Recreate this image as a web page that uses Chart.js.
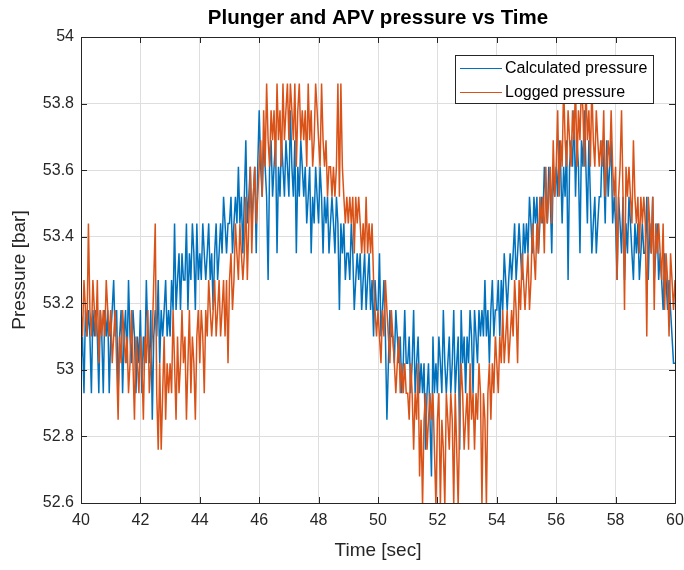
<!DOCTYPE html>
<html>
<head>
<meta charset="utf-8">
<script src="https://cdn.jsdelivr.net/npm/chart.js@4.4.1/dist/chart.umd.min.js"></script>
<style>
  html, body { margin: 0; padding: 0; background: #fff; }
  canvas { display: block; }
</style>
</head>
<body>
<canvas id="chart" width="684" height="570"></canvas>
<script>
// sample timing of the logged signals (20 samples per second)
const startTime = 40;
const sampleStep = 0.05;

const xTicks = [40, 42, 44, 46, 48, 50, 52, 54, 56, 58, 60];
const yTicks = [52.6, 52.8, 53, 53.2, 53.4, 53.6, 53.8, 54];

const seriesNames = ["Calculated pressure", "Logged pressure"];

// calculated pressure [bar], one row per second
const calcPressure = [
  53.02,53.10,52.93,53.18,53.10,53.18,53.10,52.93,53.18,53.10, 53.18,53.10,52.93,53.18,53.10,52.93,53.18,53.10,53.18,52.93,
  53.10,53.18,53.27,53.10,53.18,52.93,53.10,53.18,52.93,53.10, 53.18,53.02,53.27,53.10,53.02,53.18,53.10,52.93,53.10,53.02,
  53.18,52.93,53.10,53.02,53.27,53.10,53.02,53.18,52.85,53.10, 53.18,53.10,53.27,53.02,53.18,53.10,53.18,53.27,53.10,53.18,
  53.10,53.27,53.18,53.44,53.18,53.27,53.35,53.18,53.35,53.27, 53.27,53.44,53.18,53.35,53.27,53.44,53.35,53.18,53.44,53.27,
  53.35,53.27,53.44,53.35,53.27,53.35,53.44,53.27,53.35,53.18, 53.35,53.44,53.27,53.35,53.44,53.35,53.52,53.44,53.35,53.44,
  53.44,53.52,53.35,53.44,53.52,53.44,53.61,53.44,53.52,53.35, 53.52,53.69,53.44,53.52,53.61,53.44,53.52,53.61,53.35,53.61,
  53.78,53.61,53.52,53.69,53.61,53.52,53.27,53.61,53.69,53.52, 53.61,53.69,53.35,53.61,53.52,53.69,53.61,53.52,53.69,53.61,
  53.52,53.78,53.61,53.52,53.69,53.35,53.61,53.52,53.69,53.61, 53.52,53.61,53.44,53.52,53.61,53.35,53.52,53.44,53.61,53.52,
  53.44,53.61,53.52,53.35,53.52,53.44,53.52,53.35,53.44,53.52, 53.44,53.35,53.52,53.44,53.18,53.44,53.35,53.44,53.27,53.35,
  53.35,53.27,53.44,53.35,53.18,53.27,53.35,53.27,53.35,53.18, 53.27,53.35,53.18,53.27,53.35,53.18,53.27,53.10,53.27,53.18,
  53.18,53.35,53.10,53.18,53.27,53.10,52.85,53.02,53.18,53.10, 53.10,53.02,53.18,53.10,53.02,53.10,52.93,53.02,53.18,53.02,
  53.02,53.10,52.93,53.02,53.18,52.93,53.02,53.10,52.93,53.02, 52.93,53.02,52.76,52.93,53.02,52.85,52.68,53.10,52.93,53.02,
  52.93,53.10,53.02,52.93,53.18,53.02,52.93,53.02,53.10,52.93, 53.02,53.18,52.93,53.02,53.10,52.76,53.18,53.02,53.10,52.93,
  53.10,53.02,53.18,53.10,52.93,53.18,53.10,53.02,53.18,53.10, 53.18,53.10,53.27,53.10,53.18,53.02,53.18,53.27,53.10,53.18,
  53.18,53.27,53.10,53.27,53.18,53.35,53.27,53.18,53.27,53.35, 53.27,53.35,53.44,53.27,53.35,53.44,53.35,53.27,53.44,53.35,
  53.44,53.35,53.52,53.44,53.35,53.52,53.44,53.52,53.35,53.44, 53.52,53.44,53.61,53.52,53.44,53.61,53.52,53.35,53.61,53.52,
  53.61,53.52,53.69,53.61,53.44,53.61,53.52,53.69,53.27,53.61, 53.69,53.61,53.78,53.52,53.69,53.61,53.35,53.69,53.61,53.78,
  53.61,53.44,53.69,53.52,53.35,53.44,53.52,53.35,53.44,53.52, 53.52,53.69,53.61,53.44,53.69,53.52,53.61,53.69,53.44,53.52,
  53.44,53.27,53.52,53.44,53.35,53.52,53.27,53.44,53.35,53.52, 53.44,53.35,53.27,53.44,53.35,53.44,53.27,53.35,53.44,53.35,
  53.35,53.52,53.27,53.44,53.35,53.52,53.27,53.35,53.44,53.27, 53.35,53.27,53.18,53.35,53.27,53.18,53.27,53.18,53.10,53.02,
  53.02
];

// logged pressure [bar], one row per second
const loggedPressure = [
  53.18,53.10,53.27,53.18,53.10,53.44,53.18,53.10,53.27,53.18, 53.10,53.27,53.02,53.18,53.10,53.18,53.10,53.27,53.18,53.10,
  53.18,53.02,53.10,53.18,53.02,52.85,53.10,53.02,53.18,53.10, 53.02,53.10,52.93,53.02,53.18,53.02,52.85,53.10,53.02,52.93,
  53.10,53.02,52.85,53.10,53.02,53.18,52.93,53.02,53.10,53.27, 53.44,52.93,52.76,53.02,52.76,52.93,53.10,52.85,53.02,52.93,
  53.02,52.93,53.18,53.02,52.85,53.10,52.93,53.02,53.18,53.02, 53.10,52.85,53.02,53.18,52.93,53.10,53.02,52.85,53.10,53.18,
  53.02,53.18,53.10,52.93,53.18,53.10,53.27,53.18,53.10,53.18, 53.27,53.10,53.18,53.27,53.10,53.18,53.27,53.10,53.27,53.02,
  53.27,53.35,53.18,53.27,53.44,53.35,53.27,53.44,53.35,53.27, 53.35,53.52,53.27,53.44,53.61,53.35,53.52,53.61,53.44,53.52,
  53.61,53.69,53.52,53.78,53.61,53.86,53.69,53.61,53.78,53.69, 53.78,53.61,53.86,53.69,53.78,53.61,53.86,53.69,53.78,53.86,
  53.69,53.86,53.78,53.69,53.86,53.61,53.78,53.86,53.69,53.78, 53.69,53.78,53.61,53.86,53.69,53.78,53.61,53.69,53.86,53.78,
  53.69,53.61,53.86,53.69,53.61,53.69,53.52,53.61,53.61,53.52, 53.61,53.52,53.61,53.86,53.52,53.86,53.61,53.52,53.44,53.52,
  53.44,53.52,53.44,53.52,53.35,53.52,53.44,53.52,53.44,53.35, 53.44,53.35,53.52,53.35,53.44,53.35,53.44,53.27,53.18,53.10,
  53.18,53.10,53.02,53.18,53.10,53.27,53.18,53.10,53.02,53.18, 53.10,53.02,52.93,53.02,53.10,52.93,53.02,52.93,53.02,52.93,
  52.93,52.85,53.02,52.93,52.76,52.93,52.85,53.02,52.68,52.85, 52.59,52.85,52.93,52.76,52.85,52.93,52.85,52.93,52.76,52.59,
  52.85,52.93,52.59,52.85,52.76,52.59,52.93,52.85,52.76,52.93, 52.85,52.59,52.93,52.76,52.59,52.85,53.02,52.93,52.76,52.85,
  52.93,52.76,53.02,52.85,52.93,52.76,52.93,52.85,53.02,52.93, 52.59,52.93,52.85,52.59,52.93,53.02,52.85,53.02,52.93,53.10,
  53.02,52.93,53.10,53.02,53.18,53.02,53.10,53.18,53.02,53.10, 53.18,53.10,53.27,53.18,53.02,53.27,53.18,53.35,53.27,53.18,
  53.27,53.35,53.18,53.27,53.44,53.35,53.27,53.44,53.35,53.52, 53.44,53.52,53.35,53.61,53.44,53.52,53.61,53.44,53.69,53.52,
  53.61,53.78,53.52,53.69,53.61,53.86,53.69,53.61,53.78,53.69, 53.61,53.78,53.69,53.86,53.61,53.78,53.69,53.86,53.78,53.61,
  53.86,53.69,53.78,53.61,53.86,53.69,53.61,53.78,53.69,53.61, 53.69,53.61,53.78,53.52,53.61,53.69,53.61,53.78,53.61,53.52,
  53.61,53.27,53.52,53.61,53.78,53.52,53.18,53.61,53.52,53.61, 53.52,53.44,53.69,53.52,53.44,53.52,53.35,53.52,53.44,53.52,
  53.44,53.10,53.52,53.44,53.35,53.52,53.18,53.44,53.35,53.44, 53.35,53.27,53.44,53.18,53.35,53.27,53.10,53.35,53.27,53.18,
  53.27
];

const BLUE = "#0072BD";
const ORANGE = "#D95319";
const INK = "#262626";
const FONT = "'Liberation Sans', Arial, sans-serif";

const toPoints = (values) => values.map((v, i) => ({ x: startTime + i * sampleStep, y: v }));

// MATLAB-like decorations: title, axis labels, box, inward ticks and legend
const matlabFrame = {
    id: "matlabFrame",
    afterDraw(chart) {
        const { ctx, chartArea: a, scales } = chart;
        ctx.save();

        // inward tick marks
        ctx.strokeStyle = INK;
        ctx.lineWidth = 1;
        ctx.beginPath();
        xTicks.forEach((v) => {
            const px = Math.round(scales.x.getPixelForValue(v)) + 0.5;
            ctx.moveTo(px, a.bottom); ctx.lineTo(px, a.bottom - 6);
            ctx.moveTo(px, a.top); ctx.lineTo(px, a.top + 6);
        });
        yTicks.forEach((v) => {
            const py = Math.round(scales.y.getPixelForValue(v)) + 0.5;
            ctx.moveTo(a.left, py); ctx.lineTo(a.left + 6, py);
            ctx.moveTo(a.right, py); ctx.lineTo(a.right - 6, py);
        });
        ctx.stroke();

        // axes box
        ctx.strokeRect(Math.round(a.left) + 0.5, Math.round(a.top) + 0.5,
            Math.round(a.right - a.left), Math.round(a.bottom - a.top));

        // title and axis labels
        ctx.fillStyle = "#000";
        ctx.textAlign = "center";
        ctx.textBaseline = "middle";
        ctx.font = "bold 20.5px " + FONT;
        ctx.fillText("Plunger and APV pressure vs Time", (a.left + a.right) / 2, 18);

        ctx.fillStyle = INK;
        ctx.font = "19px " + FONT;
        ctx.fillText("Time [sec]", (a.left + a.right) / 2, 551);
        ctx.save();
        ctx.translate(20, (a.top + a.bottom) / 2);
        ctx.rotate(-Math.PI / 2);
        ctx.fillText("Pressure [bar]", 0, 0);
        ctx.restore();

        // legend box
        const lx = 455, ly = 55, lw = 198, lh = 48;
        ctx.fillStyle = "#fff";
        ctx.fillRect(lx, ly, lw, lh);
        ctx.strokeStyle = INK;
        ctx.strokeRect(lx + 0.5, ly + 0.5, lw, lh);
        [BLUE, ORANGE].forEach((c, i) => {
            const y = ly + 13 + i * 24;
            ctx.strokeStyle = c;
            ctx.lineWidth = 1.2;
            ctx.beginPath();
            ctx.moveTo(lx + 5, y + 0.5);
            ctx.lineTo(lx + 47, y + 0.5);
            ctx.stroke();
            ctx.fillStyle = "#000";
            ctx.textAlign = "left";
            ctx.font = "16px " + FONT;
            ctx.fillText(seriesNames[i], lx + 50, y + 1);
        });

        ctx.restore();
    },
};

new Chart(document.getElementById("chart"), {
    type: "line",
    data: {
        datasets: [
            {
                label: seriesNames[0],
                data: toPoints(calcPressure),
                borderColor: BLUE,
                borderWidth: 1.5,
                pointRadius: 0,
                tension: 0,
                order: 2,
            },
            {
                label: seriesNames[1],
                data: toPoints(loggedPressure),
                borderColor: ORANGE,
                borderWidth: 1.5,
                pointRadius: 0,
                tension: 0,
                order: 1,
            },
        ],
    },
    options: {
        responsive: false,
        animation: false,
        events: [],
        layout: { padding: { left: 0, right: 0, top: 37, bottom: 0 } },
        plugins: {
            legend: { display: false },
            tooltip: { enabled: false },
        },
        scales: {
            x: {
                type: "linear",
                min: 40,
                max: 60,
                afterFit: (s) => { s.height = 67; s.paddingRight = 9; },
                afterBuildTicks: (s) => { s.ticks = xTicks.map((v) => ({ value: v })); },
                grid: { color: "#dedede", drawTicks: false },
                border: { display: false },
                ticks: {
                    color: INK,
                    padding: 8,
                    maxRotation: 0,
                    font: { family: FONT, size: 16 },
                    callback: (v) => String(v),
                },
            },
            y: {
                min: 52.6,
                max: 54,
                afterFit: (s) => { s.width = 81; },
                afterBuildTicks: (s) => { s.ticks = yTicks.map((v) => ({ value: v })); },
                grid: { color: "#dedede", drawTicks: false },
                border: { display: false },
                ticks: {
                    color: INK,
                    padding: 7,
                    font: { family: FONT, size: 16 },
                    callback: (v) => String(Number(v.toFixed(1))),
                },
            },
        },
    },
    plugins: [matlabFrame],
});
</script>
</body>
</html>
